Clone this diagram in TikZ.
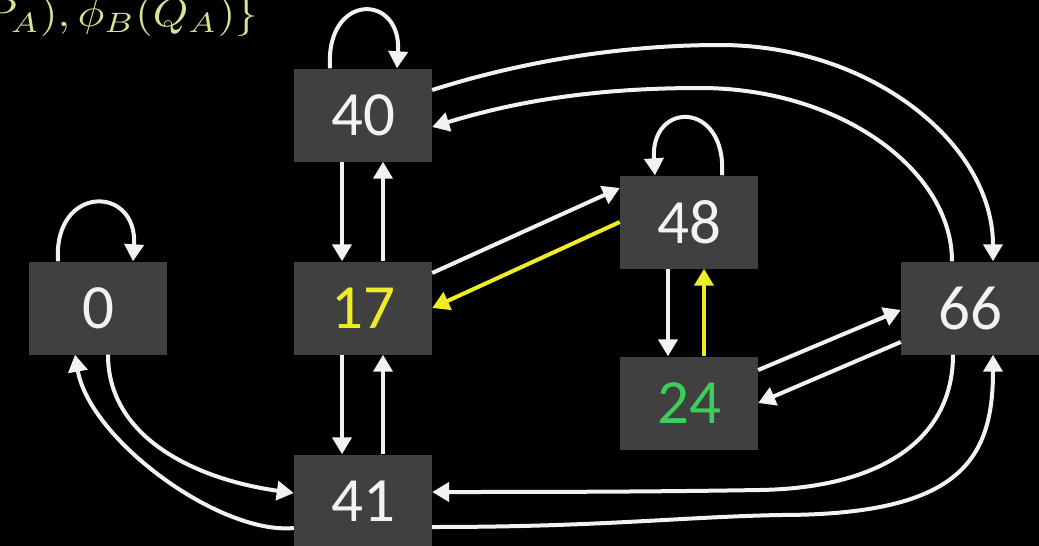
\documentclass[tikz,border=0pt]{standalone}
\usepackage{graphicx}
\usepackage{fontspec}
\newfontfamily\digfont{Carlito}
\usetikzlibrary{arrows.meta,calc}
\definecolor{boxgray}{RGB}{64,64,64}
\definecolor{ylw}{RGB}{236,236,40}
\definecolor{grn}{RGB}{60,205,90}
\definecolor{lbl}{RGB}{214,228,150}
\definecolor{wht}{RGB}{242,242,242}
\tikzset{
  statebox/.style={fill=boxgray, minimum width=138pt, minimum height=93pt, inner sep=0pt,
    text=wht, font=\digfont\fontsize{63}{63}\selectfont},
  warr/.style={draw=wht, line width=4pt, -{Triangle[length=17pt,width=19pt]}},
  yarr/.style={warr, draw=ylw},
}
\begin{document}
\begin{tikzpicture}[x=1pt,y=-1pt]
\useasboundingbox (0,0) rectangle (1039,546);
\fill[black] (0,0) rectangle (1039,546);
\clip (0,0) rectangle (1039,546);

\node[anchor=base east, inner sep=0pt, text=lbl] (title) at (258,27) {\scalebox{4.5}[4.0]{$P_A),\phi_B(Q_A)\}$}};

\node[statebox] (n40) at (363,115) {40};
\node[statebox, text=ylw] (n17) at (363,308) {17};
\node[statebox] (n41) at (363,501) {41};
\node[statebox] (n0) at (98,308) {0};
\node[statebox] (n48) at (689,222) {48};
\node[statebox, text=grn] (n24) at (689,403) {24};
\node[statebox] (n66) at (970,308) {66};

% self loops
\draw[warr] ([xshift=-33pt]n40.north) .. controls +(-5,-76) and +(5,-76) .. ([xshift=34pt]n40.north);
\draw[warr] ([xshift=33pt]n48.north) .. controls +(5,-75) and +(-5,-75) .. ([xshift=-34pt]n48.north);
\draw[warr] ([xshift=-40pt]n0.north) .. controls +(-5,-77) and +(5,-77) .. ([xshift=35pt]n0.north);

% verticals
\draw[warr] ([xshift=-21pt]n40.south) -- ([xshift=-21pt]n17.north);
\draw[warr] ([xshift=20pt]n17.north) -- ([xshift=20pt]n40.south);
\draw[warr] ([xshift=-21pt]n17.south) -- ([xshift=-21pt]n41.north);
\draw[warr] ([xshift=20pt]n41.north) -- ([xshift=20pt]n17.south);
\draw[warr] ([xshift=-21pt]n48.south) -- ([xshift=-21pt]n24.north);
\draw[yarr] ([xshift=15pt]n24.north) -- ([xshift=15pt]n48.south);

% diagonals
\draw[warr] ([yshift=35pt]n17.east) -- ([yshift=34pt]n48.west);
\draw[yarr] (n48.west) -- (n17.east);
\draw[warr] ([yshift=33pt]n24.east) -- ([yshift=-2pt]n66.west);
\draw[warr] ([yshift=-34pt]n66.west) -- (n24.east);

% top curves
\draw[warr] ([yshift=25pt]n40.east) .. controls (520,62) and (620,45) .. (720,45)
  .. controls (870,45) and (993,143) .. ([xshift=23pt]n66.north);
\draw[warr] ([xshift=-18pt]n66.north) .. controls (952,170) and (840,88) .. (700,88)
  .. controls (600,88) and (520,100) .. ([yshift=-12pt]n40.east);

% bottom curves
\draw[warr] ([xshift=-17pt]n66.south) .. controls (953,440) and (880,488) .. (760,490)
  .. controls (640,492) and (520,492) .. ([yshift=9pt]n41.east);
\draw[warr] ([yshift=-26pt]n41.east) .. controls (600,527) and (680,517) .. (780,515)
  .. controls (960,515) and (993,460) .. ([xshift=23pt]n66.south);

% left curves
\draw[warr] ([xshift=10pt]n0.south) .. controls (108,440) and (200,480) .. ([yshift=8pt]n41.west);
\draw[warr] ([yshift=-27pt]n41.west) .. controls (220,535) and (90,440) .. ([xshift=-23pt]n0.south);
\end{tikzpicture}
\end{document}
